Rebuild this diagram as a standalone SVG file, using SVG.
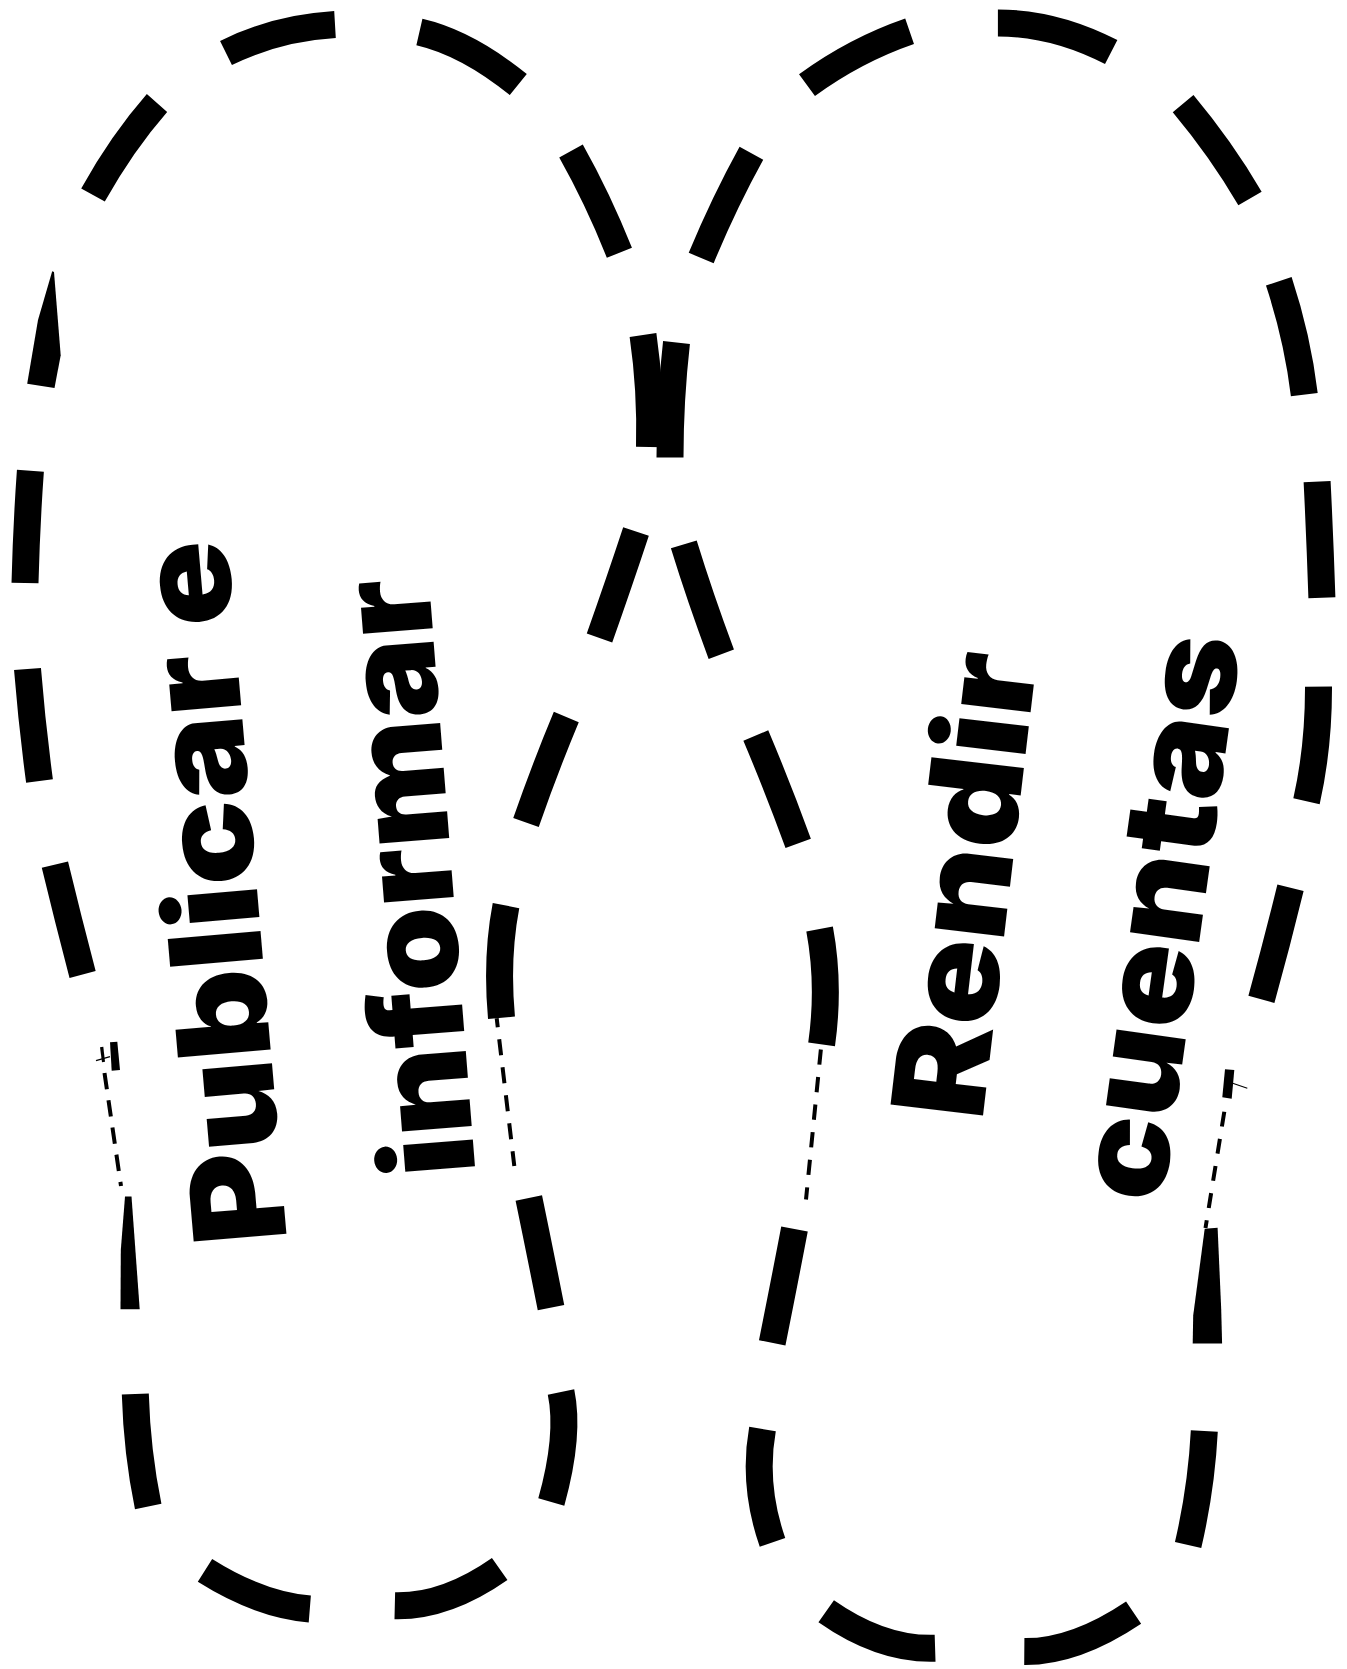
<svg xmlns="http://www.w3.org/2000/svg" width="1347" height="1669" viewBox="0 0 1347 1669">
<style>
.d{fill:none;stroke:#000;stroke-width:27;stroke-linecap:butt}
.t{fill:none;stroke:#000;stroke-width:4}
.h{fill:none;stroke:#000;stroke-width:1.2}
.w{fill:#000;stroke:none}
.lbl{font-family:Inter,"Noto Sans","Liberation Sans",sans-serif;font-weight:900;font-size:128px;fill:#000}
</style>
<rect width="1347" height="1669" fill="#fff"/>
<g id="node-publicar-informar">
  <path class="d" d="M93,195 Q122,143 157,103"/>
  <path class="d" d="M226,53 Q277,28 335,24.6"/>
  <path class="d" d="M419.4,32 Q467,43 518.3,84.6"/>
  <path class="d" d="M571,151 Q598,199 619.4,252.8"/>
  <path class="d" d="M643,335 Q651,390 649.5,447"/>
  <path class="d" d="M636,531.5 Q619,583 599.5,638"/>
  <path class="d" d="M566.3,717 Q545,768 526,822.5"/>
  <path class="d" d="M506,905.6 Q496,958 501.5,1017.8"/>
  <path class="t" d="M496.7,1018.3 L514.3,1166" stroke-dasharray="16 12.2" stroke-dashoffset="7"/>
  <path class="d" d="M528.8,1198 Q540,1252 551,1307.7"/>
  <path class="d" d="M561,1392 Q570,1435 551.3,1502"/>
  <path class="d" d="M499.7,1569 Q445.5,1607 394.8,1605.8"/>
  <path class="d" d="M309.8,1609 Q260,1605 205,1570.4"/>
  <path class="d" d="M148.2,1506.5 Q137,1452 135.3,1394"/>
  <polygon class="w" points="125,1196.5 131.5,1196.5 139.7,1309.2 120.5,1309.2 120.8,1250"/>
  <path class="t" d="M104.5,1073 L121,1186" stroke-dasharray="16.5 11"/>
  <polygon class="w" points="110,1042.3 117.3,1041.7 120,1070 111.7,1070.7"/>
  <polygon class="w" points="100,1047.3 103.3,1046.7 105,1061.7 102,1062.3"/>
  <line class="h" x1="96" y1="1060.7" x2="110" y2="1056.7"/>
  <path class="d" d="M82.6,974.5 Q68,919 54.9,864.7"/>
  <path class="d" d="M39.5,781 Q32,725 27.5,669"/>
  <path class="d" d="M25,583 Q26.5,525 30.4,470.7"/>
  <polygon class="w" points="52.2,271.3 54,272 60.7,355.2 54.5,388 27.2,383.8 38,320"/>
  <text class="lbl" transform="translate(257,889) rotate(-94.9)" text-anchor="middle" textLength="705" lengthAdjust="spacingAndGlyphs">Publicar e</text>
  <text class="lbl" transform="translate(452,874.5) rotate(-94.5)" text-anchor="middle" textLength="599" lengthAdjust="spacingAndGlyphs">informar</text>
</g>
<g id="node-rendir-cuentas">
  <path class="d" d="M701.2,258 Q724,203 751.4,153.3"/>
  <path class="d" d="M807,85.1 Q855,50 909.6,31.2"/>
  <path class="d" d="M997.9,23 Q1054.6,23 1111.2,52.1"/>
  <path class="d" d="M1183.1,103.7 Q1221,149 1250,198.5"/>
  <path class="d" d="M1278.8,281.3 Q1297.5,338 1304.3,394.7"/>
  <path class="d" d="M1317.1,481.6 Q1320,540 1321.9,597.8"/>
  <path class="d" d="M1318.5,686.6 Q1318.7,747 1306.5,801.3"/>
  <path class="d" d="M1290.5,887.7 Q1277,943 1261.4,999.3"/>
  <polygon class="w" points="1225,1069.3 1234.3,1070 1231.7,1098.7 1222.3,1097.3"/>
  <line class="h" x1="1232.7" y1="1083.3" x2="1247.3" y2="1088.3"/>
  <path class="t" d="M1224.3,1111.7 L1205.5,1228" stroke-dasharray="15 12.5"/>
  <polygon class="w" points="1204.7,1228.8 1217.6,1227.8 1221.2,1308.9 1222.1,1343.6 1192.7,1343.6 1193.2,1315.5"/>
  <path class="d" d="M1204.3,1431 Q1201.4,1488 1188.1,1545"/>
  <path class="d" d="M1133.6,1612.6 Q1075,1652 1024.3,1651.6"/>
  <path class="d" d="M935.1,1648.3 Q881.5,1650 826.2,1611.2"/>
  <path class="d" d="M772.5,1542.4 Q752.5,1485 762.5,1429"/>
  <path class="d" d="M772.2,1342.8 Q784,1284 794.5,1229"/>
  <path class="t" d="M806,1199.5 L821,1048" stroke-dasharray="12.2 12.5 15.3 12.4 15.3 12.4 15.3 12.4 15.3 12.4 15.3 12.4"/>
  <path class="d" d="M821.6,1044.4 Q830,985 819.6,929"/>
  <path class="d" d="M798.2,843.3 Q778,788 755.8,735.5"/>
  <path class="d" d="M721.3,654.2 Q700,597 683.8,544.4"/>
  <path class="d" d="M670,457.5 Q670,400 676.5,342.5"/>
  <text class="lbl" transform="translate(1009.6,890) rotate(-83.3)" text-anchor="middle" textLength="467" lengthAdjust="spacingAndGlyphs">Rendir</text>
  <text class="lbl" transform="translate(1202,922.5) rotate(-82.1)" text-anchor="middle" textLength="570" lengthAdjust="spacingAndGlyphs">cuentas</text>
</g>
</svg>
